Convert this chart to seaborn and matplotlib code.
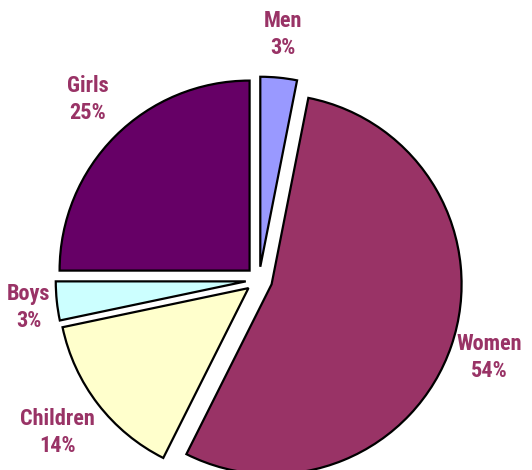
import numpy as np
import matplotlib
matplotlib.use("Agg")
import matplotlib.pyplot as plt
from matplotlib import font_manager
import seaborn as sns

categories = ["Men", "Women", "Children", "Boys", "Girls"]
shares = [3.1, 54.3, 14.3, 3.3, 25.0]
colors = ["#9999FF", "#993366", "#FFFFCC", "#CCFFFF", "#660066"]

sns.set_theme(style="white")

# pick a narrow bold face if one is installed
installed = {f.name for f in font_manager.fontManager.ttflist}
narrow = [n for n in ["Liberation Sans Narrow", "DejaVu Sans Condensed", "Roboto Condensed"]
          if n in installed]
family = narrow[0] if narrow else "Liberation Sans"
plt.rcParams["font.family"] = [family, "DejaVu Sans"]
size = 16 if narrow else 14

fig = plt.figure(figsize=(5.32, 4.70), dpi=100)
ax = fig.add_axes([0, 0, 1, 1])

wedges, _ = ax.pie(
    shares,
    colors=colors,
    startangle=90,
    counterclock=False,
    explode=[0.07] * len(shares),
    wedgeprops=dict(edgecolor="black", linewidth=1.6),
)

# label placement: distance from pie centre and small angle nudge (deg)
label_dist = [1.30, 1.28, 1.33, 1.22, 1.31]
label_nudge = [0, 0.3, -0.4, 0.9, -1.6]
total = sum(shares)
for w, name, val, d, nudge in zip(wedges, categories, shares, label_dist, label_nudge):
    theta = np.deg2rad((w.theta1 + w.theta2) / 2 + nudge)
    ax.text(d * np.cos(theta), d * np.sin(theta),
            f"{name}\n{round(val / total * 100):.0f}%",
            ha="center", va="center", fontsize=size, fontweight="bold",
            color="#993366", linespacing=1.3)

ax.set_xlim(-259 / 190, (532 - 259) / 190)
ax.set_ylim(-190 / 190, 280 / 190)
ax.set_aspect("equal")
ax.axis("off")

fig.savefig("out.png", dpi=100)
plt.close(fig)
